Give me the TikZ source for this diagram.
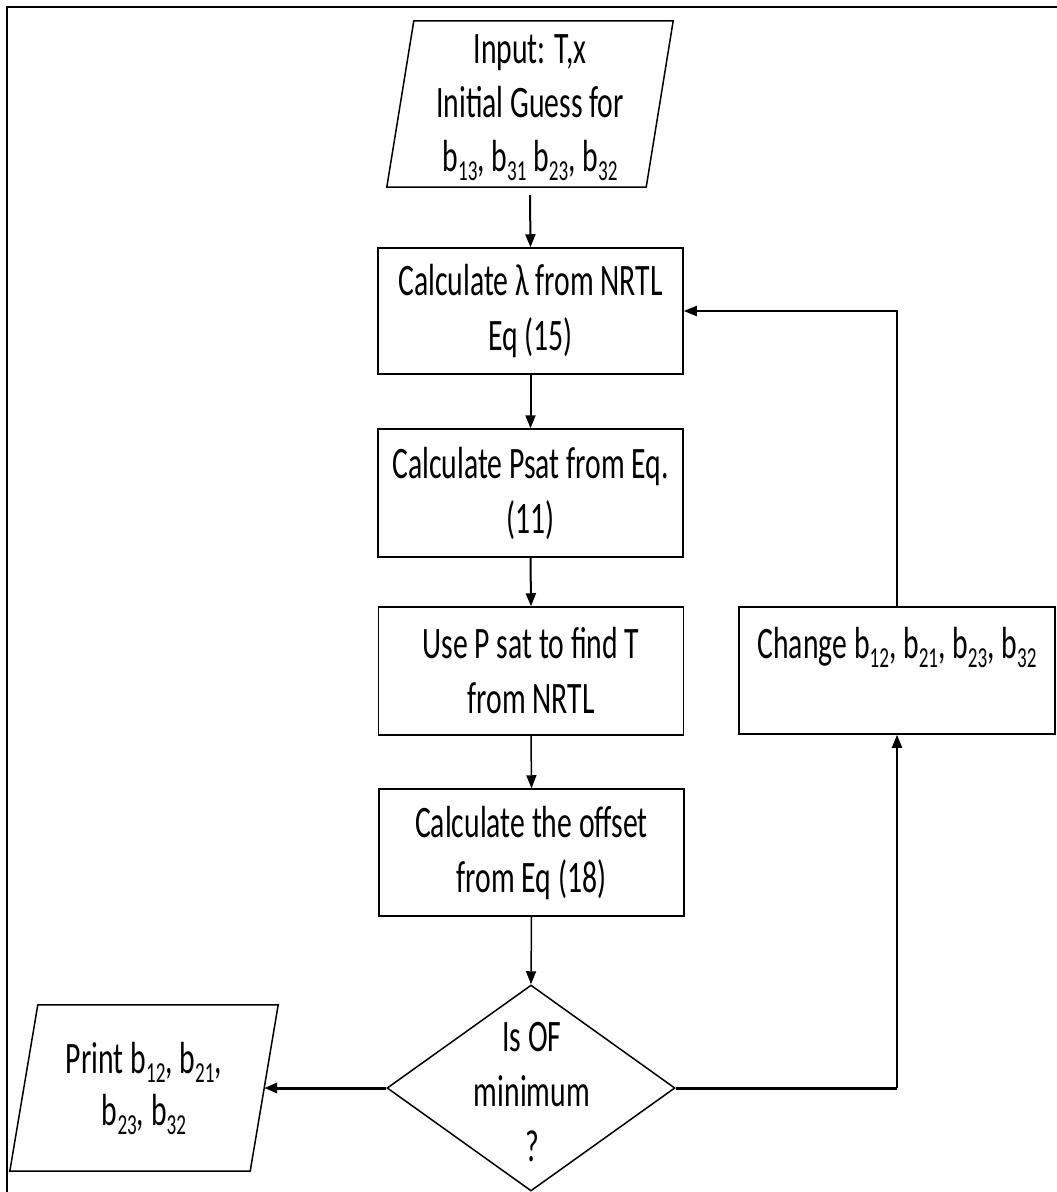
\documentclass[tikz,border=0pt]{standalone}
\usepackage{fontspec}
\usetikzlibrary{arrows.meta,calc,shapes.geometric}
\newfontfamily\flowfont[FakeStretch=0.66]{Carlito}
% lowered index in the same (condensed) face
\newcommand\bsub[1]{\raisebox{-9pt}{\fontsize{29}{29}\selectfont #1}}

\tikzset{
  every node/.style={font=\flowfont\fontsize{45}{55}\selectfont},
  procbox/.style={draw, line width=1.5pt, rectangle, inner sep=0pt, align=center},
  ioarea/.style={rectangle, inner sep=0pt, align=center},
  ioedge/.style={draw, line width=1.5pt, line join=miter},
  flow/.style={line width=2pt, -{Triangle[length=13pt,width=10pt]}},
  heavy/.style={line width=3pt},
}

\begin{document}
\begin{tikzpicture}[x=1pt,y=-1pt]
\useasboundingbox (0,0) rectangle (1057,1192);

% outer frame (runs off the right and bottom edges)
\draw[line width=2.5pt] (7,1192) -- (7,7) -- (1057,7);

% input block
\node[ioarea, minimum width=259pt, minimum height=166pt,
      font=\flowfont\fontsize{45}{54}\selectfont] (inp) at (530,108)
  {Input: T,x\\Initial Guess for\\b\bsub{13}, b\bsub{31} b\bsub{23}, b\bsub{32}};
\draw[ioedge] ($(inp.north west)+(13.5,-4)$) -- ($(inp.north east)+(13.5,-4)$)
  -- ($(inp.south east)+(-13.5,-4)$) -- ($(inp.south west)+(-13.5,-4)$) -- cycle;

% process steps
\node[procbox, minimum width=305pt, minimum height=126pt] (lam) at (530.5,311)
  {Calculate λ from NRTL\\Eq (15)};
\node[procbox, minimum width=305pt, minimum height=128pt] (psat) at (530.5,493)
  {Calculate Psat from Eq.\\(11)};
\node[procbox, minimum width=305pt, minimum height=128pt] (temp) at (531,671)
  {Use P sat to find T\\from NRTL};
\node[procbox, minimum width=305pt, minimum height=127pt] (off) at (531.5,852.5)
  {Calculate the offset\\from Eq (18)};

% decision
\node[draw, line width=1.5pt, diamond, inner sep=0pt, aspect=1.4,
      minimum width=288pt, minimum height=206pt] (dec) at (531,1088) {};
\node[ioarea] (dectext) at (532,1092) {Is OF\\minimum\\?};

% parameter update
\node[procbox, minimum width=316pt, minimum height=127pt] (chg) at (897,670.5)
  {Change b\bsub{12}, b\bsub{21}, b\bsub{23}, b\bsub{32}\\\mbox{}};

% output block
\node[ioarea, minimum width=240pt, minimum height=166pt,
      font=\flowfont\fontsize{45}{52}\selectfont] (out) at (144,1088)
  {Print b\bsub{12}, b\bsub{21},\\b\bsub{23}, b\bsub{32}};
\draw[ioedge] ($(out.north west)+(14,0)$) -- ($(out.north east)+(14,0)$)
  -- ($(out.south east)+(-14,0)$) -- ($(out.south west)+(-14,0)$) -- cycle;

% main chain
\draw[flow] ([yshift=-4pt]inp.south) -- (lam.north);
\draw[flow] (lam.south) -- (psat.north);
\draw[flow] (psat.south) -- (temp.north);
\draw[flow, line width=1.5pt] (temp.south) -- (off.north);
\draw[flow, line width=1.5pt] (off.south) -- (dec.north);

% exit and loop
\draw[flow, heavy] (dec.west) -- (out.east);
\draw[heavy] (dec.east) -- (chg.south |- dec.east);
\draw[flow] (chg.south |- dec.east) -- (chg.south);
\draw[flow] (chg.north) |- (lam.east);
\end{tikzpicture}
\end{document}
